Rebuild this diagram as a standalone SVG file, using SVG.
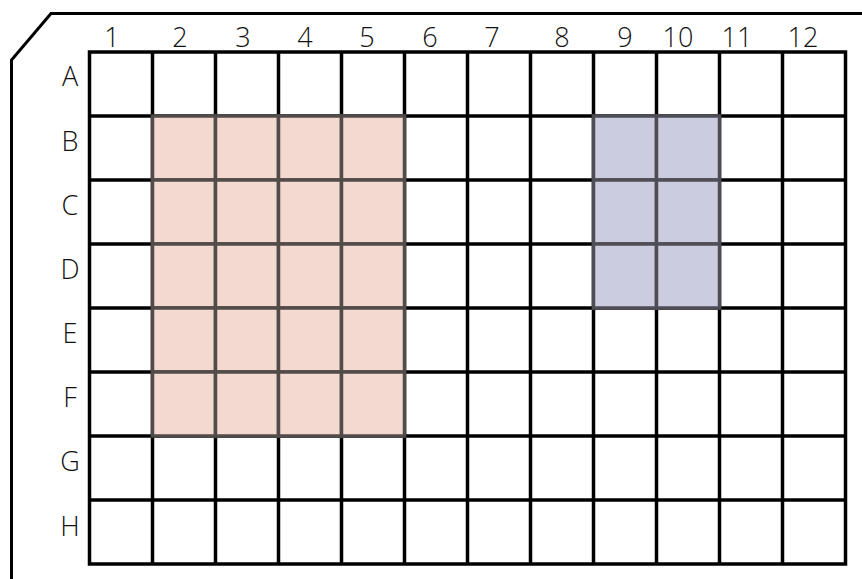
<svg xmlns="http://www.w3.org/2000/svg" width="862" height="579" viewBox="0 0 862 579">
<style>
.lbl{font-family:"Open Sans","Liberation Sans",sans-serif;font-weight:300;font-size:27px;fill:#111;text-anchor:middle}
.grid{stroke:#000;stroke-width:3.5;fill:none}
.pk{fill:#f4d9d0;stroke:#514c49;stroke-width:3.5}
.bl{fill:#cbcce0;stroke:#4e4d55;stroke-width:3.5}
</style>
<rect width="862" height="579" fill="#fff"/>
<g id="plate">
<path d="M11.5 585 V60 L51 13.5 H870" fill="none" stroke="#000" stroke-width="3"/>
</g>
<g id="grid">
<rect x="89.5" y="52" width="756" height="512" fill="#fff" class="grid"/>
<path class="grid" d="M152.5 52V564M215.5 52V564M278.5 52V564M341.5 52V564M404.5 52V564M467.5 52V564M530.5 52V564M593.5 52V564M656.5 52V564M719.5 52V564M782.5 52V564M89.5 116H845.5M89.5 180H845.5M89.5 244H845.5M89.5 308H845.5M89.5 372H845.5M89.5 436H845.5M89.5 500H845.5"/>
</g>
<g id="pink-wells">
<rect class="pk" x="152.5" y="116" width="63" height="64"/><rect class="pk" x="215.5" y="116" width="63" height="64"/><rect class="pk" x="278.5" y="116" width="63" height="64"/><rect class="pk" x="341.5" y="116" width="63" height="64"/>
<rect class="pk" x="152.5" y="180" width="63" height="64"/><rect class="pk" x="215.5" y="180" width="63" height="64"/><rect class="pk" x="278.5" y="180" width="63" height="64"/><rect class="pk" x="341.5" y="180" width="63" height="64"/>
<rect class="pk" x="152.5" y="244" width="63" height="64"/><rect class="pk" x="215.5" y="244" width="63" height="64"/><rect class="pk" x="278.5" y="244" width="63" height="64"/><rect class="pk" x="341.5" y="244" width="63" height="64"/>
<rect class="pk" x="152.5" y="308" width="63" height="64"/><rect class="pk" x="215.5" y="308" width="63" height="64"/><rect class="pk" x="278.5" y="308" width="63" height="64"/><rect class="pk" x="341.5" y="308" width="63" height="64"/>
<rect class="pk" x="152.5" y="372" width="63" height="64"/><rect class="pk" x="215.5" y="372" width="63" height="64"/><rect class="pk" x="278.5" y="372" width="63" height="64"/><rect class="pk" x="341.5" y="372" width="63" height="64"/>
</g>
<g id="blue-wells">
<rect class="bl" x="593.5" y="116" width="63" height="64"/><rect class="bl" x="656.5" y="116" width="63" height="64"/>
<rect class="bl" x="593.5" y="180" width="63" height="64"/><rect class="bl" x="656.5" y="180" width="63" height="64"/>
<rect class="bl" x="593.5" y="244" width="63" height="64"/><rect class="bl" x="656.5" y="244" width="63" height="64"/>
</g>
<g id="col-labels">
<text class="lbl" x="112" y="47">1</text>
<text class="lbl" x="180" y="47">2</text>
<text class="lbl" x="243" y="47">3</text>
<text class="lbl" x="305" y="47">4</text>
<text class="lbl" x="367" y="47">5</text>
<text class="lbl" x="430" y="47">6</text>
<text class="lbl" x="492" y="47">7</text>
<text class="lbl" x="562" y="47">8</text>
<text class="lbl" x="625" y="47">9</text>
<text class="lbl" x="678" y="47">10</text>
<text class="lbl" x="737" y="47">11</text>
<text class="lbl" x="803" y="47">12</text>
</g>
<g id="row-labels">
<text class="lbl" x="70" y="86">A</text>
<text class="lbl" x="70" y="151">B</text>
<text class="lbl" x="70" y="215">C</text>
<text class="lbl" x="70" y="279">D</text>
<text class="lbl" x="70" y="343">E</text>
<text class="lbl" x="70" y="407">F</text>
<text class="lbl" x="70" y="471">G</text>
<text class="lbl" x="70" y="536">H</text>
</g>
</svg>
